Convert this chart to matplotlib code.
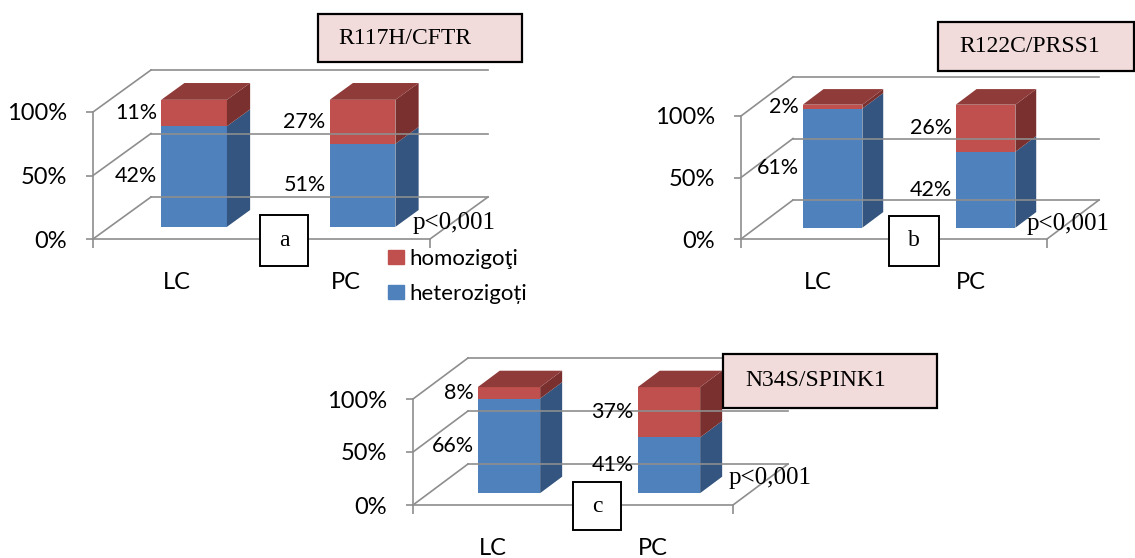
import matplotlib
matplotlib.use('Agg')
import matplotlib.pyplot as plt
from matplotlib.patches import Polygon, Rectangle, Patch
from matplotlib.transforms import offset_copy

plt.rcParams['font.family'] = ['Lato', 'DejaVu Sans']

# data: share of carriers by genotype, per mutation
categories = ['LC', 'PC']
hetero_cftr = [42, 51]
homo_cftr = [11, 27]
hetero_prss1 = [61, 42]
homo_prss1 = [2, 26]
hetero_spink1 = [66, 41]
homo_spink1 = [8, 37]
titles = ['R117H/CFTR', 'R122C/PRSS1', 'N34S/SPINK1']
letters = ['a', 'b', 'c']
p_text = 'p<0,001'
series_names = ['homozigoţi', 'heterozigoți']

W, H = 1135, 558
BLUE, BLUE_SIDE = '#4F81BD', '#34557F'
RED, RED_SIDE, RED_TOP = '#C0504D', '#7A302E', '#8F3B39'
GRID = '#8E8E8E'
PINK = '#F2DCDB'
SERIF = 'Liberation Serif'

# pixel layout of each panel: front floor edge x0..x1, 0% and 100% heights,
# oblique depth offset, title box, letter box and p-value position
panels = [
    dict(x0=93, x1=430, y0=239, y100=112, depth=(58, 42),
         title=(318, 14, 522, 62), title_x=338,
         box=(260, 215, 308, 266), p=(413, 223)),
    dict(x0=741, x1=1047, y0=239, y100=116, depth=(52, 39),
         title=(938, 22, 1134, 71), title_x=959,
         box=(889, 216, 939, 266), p=(1027, 224)),
    dict(x0=413, x1=733, y0=505, y100=399, depth=(55, 41),
         title=(723, 354, 937, 408), title_x=745,
         box=(573, 482, 621, 530), p=(729, 478)),
]
values = [(hetero_cftr, homo_cftr), (hetero_prss1, homo_prss1),
          (hetero_spink1, homo_spink1)]

BAR_W = 0.39
Z0, Z1 = 0.29, 0.69

fig = plt.figure(figsize=(W / 100, H / 100), dpi=100)


def draw_panel(geo, hetero, homo):
    x0, x1, y0, y100 = geo['x0'], geo['x1'], geo['y0'], geo['y100']
    ax = fig.add_axes([x0 / W, 1 - y0 / H, (x1 - x0) / W, (y0 - y100) / H])
    ax.set_xlim(0, 2)
    ax.set_ylim(0, 100)
    ax.patch.set_visible(False)
    # depth vector in data units
    dx = geo['depth'][0] / (x1 - x0) * 2
    dy = geo['depth'][1] / (y0 - y100) * 100

    for side in ['top', 'right']:
        ax.spines[side].set_visible(False)
    for side in ['left', 'bottom']:
        ax.spines[side].set_color(GRID)
        ax.spines[side].set_linewidth(1.2)

    ax.set_yticks([0, 50, 100], labels=['0%', '50%', '100%'])
    ax.tick_params(axis='y', length=5, width=1.2, color=GRID, pad=13.5,
                   labelsize=17)
    ax.set_xticks([0, 1, 2], labels=['', '', ''])
    ax.set_xticks([0.5, 1.5], labels=categories, minor=True)
    ax.tick_params(axis='x', which='major', length=6.5, width=1.2, color=GRID)
    ax.tick_params(axis='x', which='minor', length=0, pad=24, labelsize=17)

    # side wall and back wall gridlines, floor edge
    for v in [0, 50, 100]:
        ax.plot([0, dx], [v, v + dy], color=GRID, lw=1.2, clip_on=False)
        ax.plot([dx, 2 + dx], [v + dy, v + dy], color=GRID, lw=1.2, clip_on=False)
    ax.plot([2, 2 + dx], [0, dy], color=GRID, lw=1.2, clip_on=False)

    lab_tr = offset_copy(ax.transData, fig=fig, x=-4, y=0, units='dots')
    for i, (het, hom) in enumerate(zip(hetero, homo)):
        share = het / (het + hom) * 100
        segs = [(0, share, BLUE, BLUE_SIDE, het), (share, 100, RED, RED_SIDE, hom)]
        xl = i + 0.5 - BAR_W / 2
        xr = i + 0.5 + BAR_W / 2
        for lo, hi, front, sidec, val in segs:
            ax.add_patch(Polygon([(xl + Z0 * dx, lo + Z0 * dy), (xr + Z0 * dx, lo + Z0 * dy),
                                  (xr + Z0 * dx, hi + Z0 * dy), (xl + Z0 * dx, hi + Z0 * dy)],
                                 closed=True, fc=front, ec='none', clip_on=False))
            ax.add_patch(Polygon([(xr + Z0 * dx, lo + Z0 * dy), (xr + Z1 * dx, lo + Z1 * dy),
                                  (xr + Z1 * dx, hi + Z1 * dy), (xr + Z0 * dx, hi + Z0 * dy)],
                                 closed=True, fc=sidec, ec='none', clip_on=False))
            ax.text(xl + Z0 * dx, (lo + hi) / 2 + Z0 * dy, f'{val}%', transform=lab_tr,
                    ha='right', va='center', fontsize=15.5, clip_on=False)
        ax.add_patch(Polygon([(xl + Z0 * dx, 100 + Z0 * dy), (xr + Z0 * dx, 100 + Z0 * dy),
                              (xr + Z1 * dx, 100 + Z1 * dy), (xl + Z1 * dx, 100 + Z1 * dy)],
                             closed=True, fc=RED_TOP, ec='none', clip_on=False))
    return ax


for geo, (het, hom) in zip(panels, values):
    draw_panel(geo, het, hom)

# overlay in pixel coordinates for the boxes and notes
ov = fig.add_axes([0, 0, 1, 1], zorder=10)
ov.set_xlim(0, W)
ov.set_ylim(H, 0)
ov.axis('off')
ov.patch.set_visible(False)

for geo, title, letter in zip(panels, titles, letters):
    tx0, ty0, tx1, ty1 = geo['title']
    ov.add_patch(Rectangle((tx0, ty0), tx1 - tx0, ty1 - ty0, fc=PINK, ec='black', lw=1.6))
    ov.text(geo['title_x'], (ty0 + ty1) / 2, title, family=SERIF, fontsize=17,
            ha='left', va='center')
    bx0, by0, bx1, by1 = geo['box']
    ov.add_patch(Rectangle((bx0, by0), bx1 - bx0, by1 - by0, fc='white', ec='black', lw=1.4))
    ov.text((bx0 + bx1) / 2, (by0 + by1) / 2, letter, family=SERIF, fontsize=17,
            ha='center', va='center')
    ov.text(geo['p'][0], geo['p'][1], p_text, family=SERIF, fontsize=18,
            ha='left', va='center')

handles = [Patch(color=RED), Patch(color=BLUE)]
ov.legend(handles, series_names, loc='upper left',
          bbox_to_anchor=(388 / W, 1 - 249 / H), bbox_transform=fig.transFigure,
          frameon=False, fontsize=16, borderpad=0, borderaxespad=0,
          handlelength=0.7, handleheight=0.6, handletextpad=0.25, labelspacing=0.68)

fig.savefig('out.png', dpi=100)
